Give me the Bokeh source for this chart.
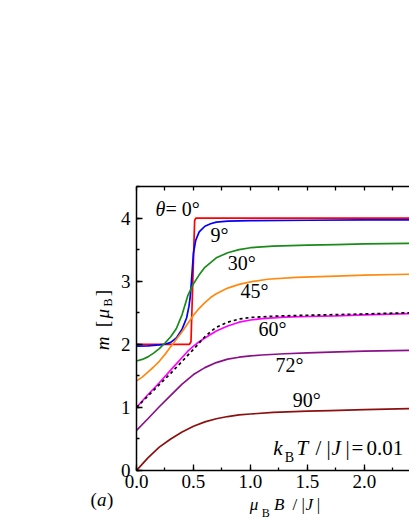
import numpy as np
from bokeh.plotting import figure
from bokeh.layouts import row, column
from bokeh.models import Range1d, LinearAxis, SingleIntervalTicker, PrintfTickFormatter, CustomJSTickFormatter, Label
from bokeh.embed import file_html
from bokeh.resources import INLINE

# ---- data (mu_B B/|J| vs m [mu_B]) ----
B_0 = [0.0, 0.465, 0.478, 0.51, 0.52, 2.4]
m_0 = [2.0, 2.0, 2.04, 3.96, 4.0, 4.0]

B_9 = [0.0, 0.1, 0.2, 0.25, 0.3, 0.35, 0.4, 0.44, 0.46, 0.47, 0.48, 0.49, 0.5, 0.52, 0.55, 0.6, 0.65, 0.7, 0.8, 1.0, 1.5, 2.0, 2.4]
m_9 = [1.97, 1.975, 1.99, 2.0, 2.03, 2.1, 2.24, 2.42, 2.6, 2.73, 2.95, 3.2, 3.45, 3.65, 3.78, 3.87, 3.91, 3.935, 3.95, 3.96, 3.965, 3.97, 3.97]

B_30 = [0.0, 0.05, 0.1, 0.15, 0.2, 0.25, 0.3, 0.35, 0.4, 0.45, 0.5, 0.55, 0.6, 0.7, 0.8, 0.9, 1.0, 1.2, 1.5, 1.75, 2.0, 2.4]
m_30 = [1.735, 1.76, 1.80, 1.86, 1.93, 2.02, 2.12, 2.25, 2.47, 2.77, 2.96, 3.10, 3.22, 3.37, 3.45, 3.50, 3.53, 3.555, 3.57, 3.58, 3.59, 3.60]

B_45 = [0.0, 0.05, 0.1, 0.15, 0.2, 0.25, 0.3, 0.35, 0.4, 0.45, 0.5, 0.55, 0.6, 0.65, 0.7, 0.8, 0.9, 1.0, 1.15, 1.4, 1.75, 2.0, 2.4]
m_45 = [1.42, 1.48, 1.56, 1.64, 1.73, 1.84, 1.96, 2.08, 2.20, 2.33, 2.46, 2.57, 2.66, 2.74, 2.80, 2.89, 2.95, 2.99, 3.03, 3.06, 3.08, 3.095, 3.11]

B_60 = [0.0, 0.1, 0.2, 0.3, 0.4, 0.45, 0.5, 0.55, 0.6, 0.7, 0.8, 0.9, 1.0, 1.1, 1.3, 1.5, 1.75, 2.0, 2.4]
m_60 = [1.0, 1.2, 1.39, 1.59, 1.79, 1.89, 1.97, 2.04, 2.10, 2.21, 2.29, 2.35, 2.385, 2.405, 2.43, 2.44, 2.45, 2.465, 2.485]

B_lim = [0.0, 0.1, 0.2, 0.3, 0.4, 0.5, 0.55, 0.6, 0.65, 0.7, 0.8, 0.9, 1.0, 1.2, 1.5, 2.0, 2.4]
m_lim = [1.0, 1.18, 1.36, 1.54, 1.73, 1.92, 2.02, 2.12, 2.20, 2.27, 2.35, 2.40, 2.425, 2.445, 2.46, 2.48, 2.50]

B_72 = [0.0, 0.1, 0.2, 0.3, 0.4, 0.5, 0.6, 0.7, 0.8, 0.9, 1.0, 1.1, 1.3, 1.5, 1.7, 2.0, 2.4]
m_72 = [0.635, 0.82, 1.01, 1.19, 1.37, 1.52, 1.63, 1.71, 1.765, 1.795, 1.815, 1.83, 1.85, 1.865, 1.875, 1.89, 1.905]

B_90 = [0.0, 0.1, 0.2, 0.3, 0.4, 0.5, 0.6, 0.7, 0.8, 0.9, 1.0, 1.2, 1.5, 1.7, 2.0, 2.4]
m_90 = [0.0, 0.2, 0.37, 0.5, 0.61, 0.70, 0.77, 0.82, 0.855, 0.88, 0.895, 0.92, 0.94, 0.95, 0.965, 0.98]

x_ticks_interval = 0.5
y_ticks_interval = 1

FONT = "Liberation Serif, Times New Roman, serif"

TOTAL_H = 525
LEFT_W = 115
MAIN_W = 409 - LEFT_W
MAIN_H = 495
BOT_H = TOTAL_H - MAIN_H
FRAME_LEFT = 136          # page x of the plot frame's left edge
FRAME_BOTTOM = 470        # page y of the plot frame's bottom edge


def blank_fig(w, h):
    f = figure(width=w, height=h, output_backend="svg", toolbar_location=None,
               x_range=Range1d(0, w), y_range=Range1d(0, h),
               x_axis_location=None, y_axis_location=None,
               min_border_left=0, min_border_right=0, min_border_top=0, min_border_bottom=0)
    f.grid.visible = False
    f.outline_line_color = None
    f.background_fill_color = "white"
    f.border_fill_color = "white"
    return f


p = figure(width=MAIN_W, height=MAIN_H, output_backend="svg", toolbar_location=None,
           x_range=Range1d(0, 2.395), y_range=Range1d(0, 4.5),
           min_border_left=FRAME_LEFT - LEFT_W, min_border_right=0, min_border_top=186,
           min_border_bottom=MAIN_H - FRAME_BOTTOM,
           x_axis_location=None, y_axis_location=None)
p.grid.visible = False
p.outline_line_color = None
p.background_fill_color = "white"
p.border_fill_color = "white"


def style_axis(ax):
    ax.axis_line_width = 1.5
    ax.axis_line_color = "black"
    ax.major_tick_in = 6
    ax.major_tick_out = 0
    ax.minor_tick_in = 3
    ax.minor_tick_out = 0
    ax.major_tick_line_width = 1.3
    ax.minor_tick_line_width = 1.3
    ax.major_label_text_font = FONT
    ax.major_label_text_font_size = "19px"
    ax.major_label_text_color = "black"


xax = LinearAxis(ticker=SingleIntervalTicker(interval=x_ticks_interval, num_minor_ticks=2),
                 formatter=PrintfTickFormatter(format="%.1f"))
style_axis(xax)
xax.major_label_standoff = 4
p.add_layout(xax, "below")

yax = LinearAxis(ticker=SingleIntervalTicker(interval=y_ticks_interval, num_minor_ticks=2),
                 formatter=PrintfTickFormatter(format="%d"))
style_axis(yax)
yax.major_label_standoff = 6
p.add_layout(yax, "left")

tax = LinearAxis(ticker=SingleIntervalTicker(interval=x_ticks_interval / 2, num_minor_ticks=0),
                 formatter=CustomJSTickFormatter(code="return ''"))
style_axis(tax)
tax.major_tick_in = 4
p.add_layout(tax, "above")

lw = 1.7
p.line(B_0, m_0, line_color="#ff0000", line_width=lw)
p.line(B_9, m_9, line_color="#0000ff", line_width=lw)
p.line(B_30, m_30, line_color="#1a8a1a", line_width=lw)
p.line(B_45, m_45, line_color="#ff8a10", line_width=lw)
p.line(B_60, m_60, line_color="#ff00ff", line_width=lw)
p.line(B_lim, m_lim, line_color="black", line_width=lw, line_dash="3 3")
p.line(B_72, m_72, line_color="#8a108a", line_width=lw)
p.line(B_90, m_90, line_color="#8b1010", line_width=lw)


def lab(f, x, y, text, size="20px", style="normal", angle=0.0, align="left"):
    f.add_layout(Label(x=x, y=y, text=text, text_font=FONT, text_font_size=size,
                       text_font_style=style, angle=angle, text_color="black",
                       text_align=align, text_baseline="alphabetic"))


# curve labels (data coordinates)
lab(p, 0.167, 4.14, "\u03b8", style="italic")
lab(p, 0.254, 4.14, "= 0\u00b0")
lab(p, 0.649, 3.73, "9\u00b0")
lab(p, 0.80, 3.29, "30\u00b0")
lab(p, 0.912, 2.84, "45\u00b0")
lab(p, 1.07, 2.24, "60\u00b0")
lab(p, 1.22, 1.67, "72\u00b0")
lab(p, 1.37, 1.11, "90\u00b0")

# k_B T / |J| = 0.01
kt_y = 0.362
lab(p, 1.20, kt_y, "k", size="21px", style="italic")
lab(p, 1.30, 0.21, "B", size="14px")
lab(p, 1.404, kt_y, "T", size="21px", style="italic")
lab(p, 1.57, kt_y, "/ |", size="21px")
lab(p, 1.711, kt_y, "J", size="21px", style="italic")
lab(p, 1.833, kt_y, "|", size="21px")
lab(p, 1.886, kt_y, "=", size="21px")
lab(p, 2.018, kt_y, "0.01", size="21px")

# x axis label (strip below the plot, pixel coordinates relative to the strip)
pb = blank_fig(MAIN_W, BOT_H)
by = 20.8
ox = LEFT_W
lab(pb, 237 - ox, by, "\u03bc", size="17px", style="italic")
lab(pb, 250 - ox, 12.4, "B", size="12px")
lab(pb, 263 - ox, by, "B", size="17px", style="italic")
lab(pb, 283 - ox, by, "/ |", size="17px")
lab(pb, 297 - ox, by, "J", size="17px", style="italic")
lab(pb, 309 - ox, by, "|", size="17px")

# left strip: y axis label (rotated, right-aligned pieces) and panel tag
pl = blank_fig(LEFT_W, TOTAL_H)
A = np.pi / 2
ax_x = 102
lab(pl, ax_x, 189, "m", size="19px", style="italic", angle=A, align="right")
lab(pl, ax_x, 204.5, "[", size="19px", angle=A, align="right")
lab(pl, ax_x, 216.5, "\u03bc", size="19px", style="italic", angle=A, align="right")
lab(pl, 107.8, 227, "B", size="12px", angle=A, align="right")
lab(pl, ax_x, 235.5, "]", size="19px", angle=A, align="right")

tag_y = TOTAL_H - 506 + 7
lab(pl, 90, tag_y, "(", size="19px")
lab(pl, 96.5, tag_y, "a", size="19px", style="italic")
lab(pl, 106.5, tag_y, ")", size="19px")

layout = row(pl, column(p, pb))
open("out.html", "w").write(file_html(layout, INLINE))
